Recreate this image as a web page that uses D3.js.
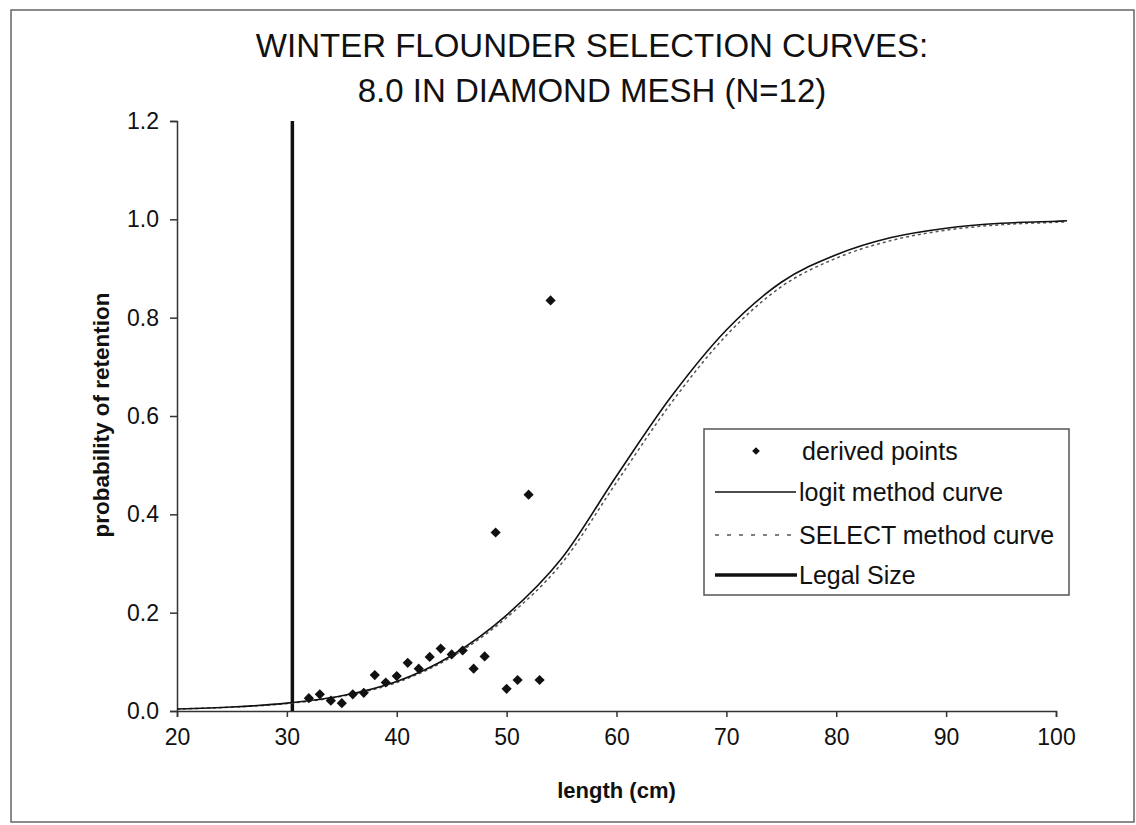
<!DOCTYPE html>
<html>
<head>
<meta charset="utf-8">
<script src="https://cdn.jsdelivr.net/npm/d3@7"></script>
<style>
  body { margin: 0; background: #fff; }
  text { font-family: "Liberation Sans", Arial, sans-serif; fill: #111; }
</style>
</head>
<body>
<div class="chart"></div>
<script>
var width = 1136
var height = 825

// derived points (length cm, retention)
var pointLength = [32, 33, 34, 35, 36, 37, 38, 39, 40, 41, 42, 43, 44, 45, 46, 47, 48, 49, 50, 51, 52, 53, 54];
var pointRetention = [0.026, 0.034, 0.021, 0.016, 0.034, 0.037, 0.073, 0.058, 0.071, 0.098, 0.086, 0.110, 0.127, 0.115, 0.123, 0.086, 0.111, 0.363, 0.045, 0.063, 0.44, 0.063, 0.835];

// curves
var curveLength = [20, 25, 30, 35, 40, 45, 50, 55, 60, 65, 70, 75, 80, 85, 90, 95, 100, 101];
var logitCurve = [0.004, 0.008, 0.016, 0.031, 0.060, 0.113, 0.195, 0.31, 0.478, 0.64, 0.775, 0.872, 0.928, 0.963, 0.982, 0.992, 0.996, 0.997];
var selectCurve = [0.004, 0.008, 0.015, 0.030, 0.058, 0.110, 0.190, 0.30, 0.465, 0.627, 0.764, 0.863, 0.921, 0.957, 0.978, 0.989, 0.994, 0.995];

var legalSize = 30.5;

var xTicks = [20, 30, 40, 50, 60, 70, 80, 90, 100];
var yTicks = [0, 0.2, 0.4, 0.6, 0.8, 1.0, 1.2];

var titleLines = ["WINTER FLOUNDER SELECTION CURVES:", "8.0 IN DIAMOND MESH (N=12)"];
var legendLabels = ["derived points", "logit method curve", "SELECT method curve", "Legal Size"];

var x = d3.scaleLinear().domain([20, 100]).range([177, 1056]);
var y = d3.scaleLinear().domain([0, 1.2]).range([711, 121]);

var svg = d3.select(".chart").append("svg")
    .attr("width", width)
    .attr("height", height);

// outer frame
svg.append("rect")
    .attr("x", 11).attr("y", 10)
    .attr("width", 1123).attr("height", 812)
    .attr("fill", "#fff")
    .attr("stroke", "#666")
    .attr("stroke-width", 1.5);

// title
svg.selectAll(".title")
    .data(titleLines)
    .enter().append("text")
    .attr("class", "title")
    .attr("x", 592)
    .attr("y", function(d, i) { return 57 + i * 45; })
    .attr("text-anchor", "middle")
    .style("font-size", "33px")
    .text(function(d) { return d; });

// axes
var xAxis = svg.append("g")
    .attr("transform", "translate(0," + y(0) + ")")
    .call(d3.axisBottom(x).tickValues(xTicks).tickSize(6).tickPadding(12).tickFormat(d3.format("d")));

var yAxis = svg.append("g")
    .attr("transform", "translate(" + x(20) + ",0)")
    .call(d3.axisLeft(y).tickValues(yTicks).tickSize(7).tickPadding(11).tickFormat(d3.format(".1f")));

[xAxis, yAxis].forEach(function(ax) {
  ax.select(".domain").attr("stroke", "#333").attr("stroke-width", 1.5);
  ax.selectAll(".tick line").attr("stroke", "#333").attr("stroke-width", 1.5);
  ax.selectAll(".tick text")
      .style("font-family", "'Liberation Sans', Arial, sans-serif")
      .style("font-size", "23px")
      .attr("fill", "#111");
});

// axis titles
svg.append("text")
    .attr("x", x(60))
    .attr("y", 798)
    .attr("text-anchor", "middle")
    .style("font-size", "22px")
    .style("font-weight", "bold")
    .text("length (cm)");

svg.append("text")
    .attr("transform", "translate(109," + 415 + ") rotate(-90)")
    .attr("text-anchor", "middle")
    .style("font-size", "22.5px")
    .style("font-weight", "bold")
    .text("probability of retention");

// legal size
svg.append("line")
    .attr("x1", x(legalSize)).attr("x2", x(legalSize))
    .attr("y1", y(0)).attr("y2", y(1.2))
    .attr("stroke", "#111")
    .attr("stroke-width", 3.5);

// curves
var line = d3.line()
    .x(function(d) { return x(d[0]); })
    .y(function(d) { return y(d[1]); })
    .curve(d3.curveMonotoneX);

svg.append("path")
    .datum(curveLength.map(function(l, i) { return [l, selectCurve[i]]; }))
    .attr("d", line)
    .attr("fill", "none")
    .attr("stroke", "#555")
    .attr("stroke-width", 1.5)
    .attr("stroke-dasharray", "3,3");

svg.append("path")
    .datum(curveLength.map(function(l, i) { return [l, logitCurve[i]]; }))
    .attr("d", line)
    .attr("fill", "none")
    .attr("stroke", "#111")
    .attr("stroke-width", 1.6);

// derived points
var diamond = d3.symbol().type(d3.symbolSquare).size(52);

svg.selectAll(".pt")
    .data(pointLength)
    .enter().append("path")
    .attr("class", "pt")
    .attr("d", diamond)
    .attr("transform", function(d, i) {
      return "translate(" + x(d) + "," + y(pointRetention[i]) + ") rotate(45)";
    })
    .attr("fill", "#111");

// legend
var legend = svg.append("g");

legend.append("rect")
    .attr("x", 704).attr("y", 429)
    .attr("width", 365).attr("height", 166)
    .attr("fill", "#fff")
    .attr("stroke", "#555")
    .attr("stroke-width", 1.5);

var rowY = [451, 492, 535, 575];

legend.append("path")
    .attr("d", d3.symbol().type(d3.symbolSquare).size(30))
    .attr("transform", "translate(756," + rowY[0] + ") rotate(45)")
    .attr("fill", "#111");

legend.append("line")
    .attr("x1", 715).attr("x2", 796)
    .attr("y1", rowY[1]).attr("y2", rowY[1])
    .attr("stroke", "#111").attr("stroke-width", 1.5);

legend.append("line")
    .attr("x1", 715).attr("x2", 796)
    .attr("y1", rowY[2]).attr("y2", rowY[2])
    .attr("stroke", "#555").attr("stroke-width", 1.5)
    .attr("stroke-dasharray", "4,8");

legend.append("line")
    .attr("x1", 715).attr("x2", 797)
    .attr("y1", rowY[3]).attr("y2", rowY[3])
    .attr("stroke", "#111").attr("stroke-width", 3.5);

legend.selectAll(".lab")
    .data(legendLabels)
    .enter().append("text")
    .attr("class", "lab")
    .attr("x", function(d, i) { return i == 0 ? 802 : 799; })
    .attr("y", function(d, i) { return rowY[i] + 9; })
    .style("font-size", "25px")
    .text(function(d) { return d; });
</script>
</body>
</html>
